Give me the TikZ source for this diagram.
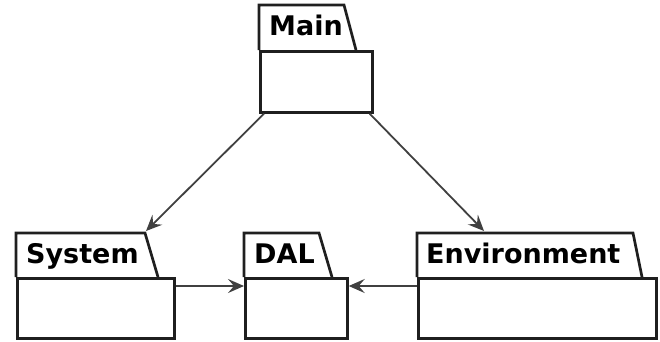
\documentclass[tikz,border=0pt]{standalone}
\usepackage{fontspec}
\setmainfont{DejaVu Sans}
\usetikzlibrary{arrows.meta,calc}
\tikzset{
  pkgline/.style={draw=black!88, line width=2.7pt, fill=white, line join=miter},
  pkgbody/.style={pkgline, rectangle, inner sep=0pt, anchor=north west},
  pkglabel/.style={anchor=base west, inner sep=0pt, font=\bfseries\fontsize{27}{30}\selectfont},
  dep/.style={draw=black!75, line width=1.8pt,
    -{Stealth[length=16pt, width=14pt, inset=6pt]}},
}
\begin{document}
\begin{tikzpicture}[x=1pt, y=-1pt]
  \useasboundingbox (0,0) rectangle (660,341);

  % package Main
  \draw[pkgline] (259,50) -- (259,5) -- (344,5) -- (356,50);
  \node[pkgbody, minimum width=112pt, minimum height=61pt] (mainbody) at (259,50) {};
  \node[pkglabel] (mainlabel) at (269,35) {Main};

  % package System
  \draw[pkgline] (16,277) -- (16,233) -- (145,233) -- (158,277);
  \node[pkgbody, minimum width=157pt, minimum height=60pt] (sysbody) at (16,277) {};
  \node[pkglabel] (syslabel) at (26,263) {System};

  % package DAL
  \draw[pkgline] (244,277) -- (244,233) -- (319,233) -- (332,277);
  \node[pkgbody, minimum width=102pt, minimum height=60pt] (dalbody) at (244,277) {};
  \node[pkglabel] (dallabel) at (254,263) {DAL};

  % package Environment
  \draw[pkgline] (417,277) -- (417,233) -- (633,233) -- (642,277);
  \node[pkgbody, minimum width=238pt, minimum height=60pt] (envbody) at (417,277) {};
  \node[pkglabel] (envlabel) at (426,263) {Environment};

  % connector end points
  \coordinate (mainL) at ($(mainbody.south west)+(5,0)$);
  \coordinate (mainR) at ($(mainbody.south east)+(-4,0)$);
  \coordinate (sysTop) at (146,231);
  \coordinate (envTop) at (484,231);
  \coordinate (sysOut) at (sysbody.east |- 0,286);
  \coordinate (dalIn) at (dalbody.west |- 0,286);
  \coordinate (dalInR) at (dalbody.east |- 0,286);
  \coordinate (envOut) at (envbody.west |- 0,286);

  % dependencies
  \draw[dep] (mainL) -- (sysTop);
  \draw[dep] (mainR) -- (envTop);
  \draw[dep] (sysOut) -- (dalIn);
  \draw[dep] (envOut) -- (dalInR);
\end{tikzpicture}
\end{document}
